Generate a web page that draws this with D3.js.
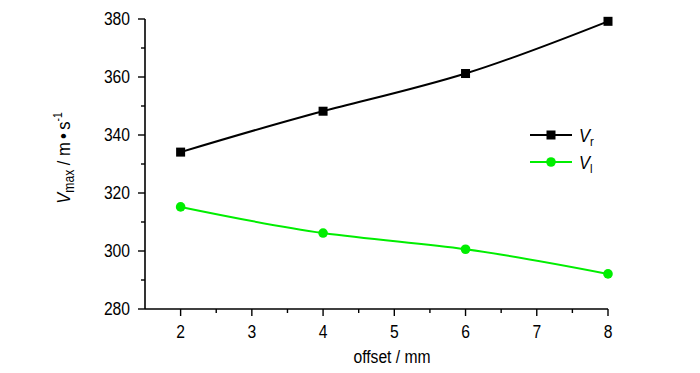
<!DOCTYPE html>
<html>
<head>
<meta charset="UTF-8">
<script src="https://d3js.org/d3.v7.min.js"></script>
<style>
  body { margin: 0; background: #fff; }
  text { font-family: "Liberation Sans", Arial, sans-serif; fill: #000; }
</style>
</head>
<body>
<svg width="700" height="373"></svg>
<script>
// data
const offsets = [2, 4, 6, 8];
const vr = [334.1, 348.2, 361.2, 379.2];
const vl = [315.2, 306.2, 300.6, 292.1];
const xTicks = [2, 3, 4, 5, 6, 7, 8];
const yTicks = [280, 300, 320, 340, 360, 380];

const svg = d3.select("svg");
const x = d3.scaleLinear().domain([1.5, 8]).range([145, 608]);
const y = d3.scaleLinear().domain([280, 380]).range([309, 19]);
const narrow = 0.87; // the original font is a condensed sans

function label(parent, px, py, anchor, size) {
  return parent.append("text")
    .attr("transform", `translate(${px},${py}) scale(${narrow},1)`)
    .attr("text-anchor", anchor).attr("font-size", size);
}

// x axis
const xAxis = svg.append("g").attr("transform", "translate(0,309)");
xAxis.append("line").attr("x1", x(1.5)).attr("x2", x(8)).attr("stroke", "#000").attr("stroke-width", 1.6);
xAxis.selectAll(".minor").data(d3.range(2.5, 8, 1)).enter().append("line")
  .attr("x1", d => x(d)).attr("x2", d => x(d)).attr("y1", 0).attr("y2", 4)
  .attr("stroke", "#000").attr("stroke-width", 1.4);
xAxis.selectAll(".major").data(xTicks).enter().append("line")
  .attr("x1", d => x(d)).attr("x2", d => x(d)).attr("y1", 0).attr("y2", 7)
  .attr("stroke", "#000").attr("stroke-width", 1.4);
xTicks.forEach(d => label(xAxis, x(d), 29, "middle", 18).text(d));

// y axis
const yAxis = svg.append("g").attr("transform", "translate(145,0)");
yAxis.append("line").attr("y1", y(280)).attr("y2", y(380)).attr("stroke", "#000").attr("stroke-width", 1.6);
yAxis.selectAll(".minor").data(d3.range(290, 380, 20)).enter().append("line")
  .attr("x1", 0).attr("x2", -4).attr("y1", d => y(d)).attr("y2", d => y(d))
  .attr("stroke", "#000").attr("stroke-width", 1.4);
yAxis.selectAll(".major").data(yTicks).enter().append("line")
  .attr("x1", 0).attr("x2", -7).attr("y1", d => y(d)).attr("y2", d => y(d))
  .attr("stroke", "#000").attr("stroke-width", 1.4);
yTicks.forEach(d => label(yAxis, -15, y(d) + 5.5, "end", 18).text(d));

// axis titles
label(svg, 392, 363, "middle", 18).text("offset / mm");

const yt = svg.append("text")
  .attr("transform", `translate(70,158) rotate(-90) scale(${narrow},1)`)
  .attr("text-anchor", "middle").attr("font-size", 19);
yt.append("tspan").attr("font-style", "italic").text("V");
yt.append("tspan").attr("font-size", 14).attr("dy", 4).text("max");
yt.append("tspan").attr("dy", -4).text(" / m\u2009\u2022\u2009s");
yt.append("tspan").attr("font-size", 12).attr("dy", -8).text("-1");

// series
const line = d3.line().x(d => x(d[0])).y(d => y(d[1])).curve(d3.curveNatural);
const series = [
  { name: "r", values: vr, color: "#000", shape: "square" },
  { name: "l", values: vl, color: "#00ee00", shape: "circle" }
];

series.forEach(s => {
  const pts = offsets.map((o, i) => [o, s.values[i]]);
  svg.append("path").datum(pts).attr("d", line)
    .attr("fill", "none").attr("stroke", s.color).attr("stroke-width", 2);
  pts.forEach(p => drawMarker(x(p[0]), y(p[1]), s));
});

function drawMarker(cx, cy, s) {
  if (s.shape === "square") {
    svg.append("rect").attr("x", cx - 4.5).attr("y", cy - 4.5).attr("width", 9).attr("height", 9).attr("fill", s.color);
  } else {
    svg.append("circle").attr("cx", cx).attr("cy", cy).attr("r", 4.8).attr("fill", s.color);
  }
}

// legend
series.forEach((s, i) => {
  const ly = 135 + i * 27;
  svg.append("line").attr("x1", 530).attr("x2", 572).attr("y1", ly).attr("y2", ly)
    .attr("stroke", s.color).attr("stroke-width", 2);
  drawMarker(551, ly, s);
  const t = label(svg, 579, ly + 7, "start", 19);
  t.append("tspan").attr("font-style", "italic").text("V");
  t.append("tspan").attr("font-size", 13).attr("dy", 4).text(s.name);
});
</script>
</body>
</html>
